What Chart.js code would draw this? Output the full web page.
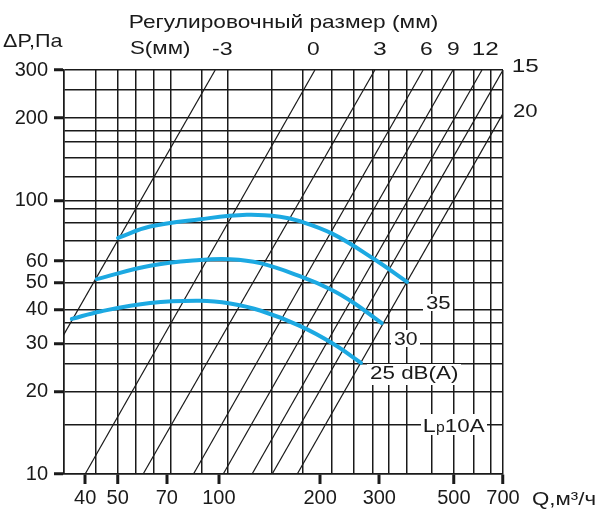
<!DOCTYPE html>
<html lang="ru">
<head>
<meta charset="utf-8">
<title>ΔP – Q</title>
<script src="https://cdn.jsdelivr.net/npm/chart.js@4.4.1/dist/chart.umd.min.js"></script>
<style>
  html, body { margin: 0; padding: 0; background: #fff; }
  canvas { display: block; }
</style>
</head>
<body>
<canvas id="grafico" width="600" height="518"></canvas>
<script>
// Диаграмма ΔP–Q: регулировочный размер S и уровни шума Lp10A

// Оси (логарифмические)
const Q_MIN = 34.6, Q_MAX = 700;
const P_MIN = 10,   P_MAX = 300;

const xTickValues = [40, 50, 70, 100, 200, 300, 500, 700];
const yTickValues = [10, 20, 30, 40, 50, 60, 100, 200, 300];

const xGridValues = [34.6, 43.1, 50, 56.7, 64.2, 72.1, 89.1, 106.5, 143.9, 177.9,
                     217, 252.2, 287.4, 320.7, 361.4, 429, 500, 574, 645, 700];
const yGridValues = [10, 15.2, 20, 25.3, 30, 35.7, 40, 50, 60, 71, 83, 93,
                     100, 122, 143, 164, 180, 200, 253, 300];

// Линии регулировочного размера S (мм): Q при 10 Па и при 300 Па
const sizeLabels = ['-3', '0', '3', '6', '9', '12', '15', '20'];
const qAt10Pa    = [20, 40, 59.5, 84, 103, 125.5, 144, 171];
const qAt300Pa   = [97.5, 193, 291, 405, 497, 606, 700, 830];

// Кривые шума
const noiseLabels = ['25 dB(A)', '30', '35'];
const q25 = [36.5, 44.4, 62.4, 87.9, 108, 132.6, 174, 218, 264.6];
const p25 = [36.9, 39.3, 42.2, 43.0, 42.0, 39.6, 34.8, 30.0, 25.5];
const q30 = [43.3, 62.4, 87.9, 108, 132.6, 174, 216, 252, 305];
const p30 = [51.6, 57.7, 60.6, 61.0, 59.0, 52.9, 47.2, 42.2, 35.6];
const q35 = [50.1, 62.4, 87.9, 121, 152, 174, 218, 287, 362.8];
const p35 = [73, 80.3, 85.4, 88.6, 87.2, 84.0, 75.5, 61.5, 50.4];

const FONT = '"Liberation Sans", Arial, sans-serif';
const INK  = '#1a1a1a';
const BLUE = '#1ca9e2';

const xTickSet = new Set(xTickValues), xGridSet = new Set(xGridValues);
const yTickSet = new Set(yTickValues), yGridSet = new Set(yGridValues);

const tickList = (grid, labels) =>
    [...new Set([...grid, ...labels])].sort((a, b) => a - b).map(v => ({ value: v }));

const pairs = (xs, ys) => xs.map((x, i) => ({ x, y: ys[i] }));

const noiseSets = [[q25, p25], [q30, p30], [q35, p35]].map(([q, p], i) => ({
    label: noiseLabels[i],
    data: pairs(q, p),
    showLine: true,
    borderColor: BLUE,
    borderWidth: 4,
    borderCapStyle: 'round',
    tension: 0.4,
    pointRadius: 0
}));

const sizeSets = sizeLabels.map((s, i) => ({
    label: 'S = ' + s,
    data: [{ x: qAt10Pa[i], y: P_MIN }, { x: qAt300Pa[i], y: P_MAX }],
    showLine: true,
    borderColor: INK,
    borderWidth: 1.2,
    pointRadius: 0
}));

// текст, вписанный по ширине между left и right (оригинал слегка растянут)
function fitText(ctx, s, left, right, baseline, size, bg) {
    ctx.save();
    ctx.font = size + 'px ' + FONT;
    const m = ctx.measureText(s);
    const ink = m.actualBoundingBoxLeft + m.actualBoundingBoxRight;
    const sx = (right - left) / ink;
    if (bg) {
        ctx.fillStyle = '#fff';
        ctx.fillRect(left - 3, baseline - m.actualBoundingBoxAscent - 2,
                     right - left + 6, m.actualBoundingBoxAscent + m.actualBoundingBoxDescent + 4);
    }
    ctx.translate(left + m.actualBoundingBoxLeft * sx, baseline);
    ctx.scale(sx, 1);
    ctx.fillStyle = INK;
    ctx.textAlign = 'left';
    ctx.textBaseline = 'alphabetic';
    ctx.fillText(s, 0, 0);
    ctx.restore();
}

const textPlugin = {
    id: 'textos',
    afterDraw(chart) {
        const ctx = chart.ctx;
        fitText(ctx, 'Регулировочный размер (мм)', 130, 438, 28, 19);
        fitText(ctx, 'S(мм)', 130, 190, 54, 19);
        fitText(ctx, 'ΔP,Па', 3, 63, 47, 19);
        fitText(ctx, 'Q,м³/ч', 532, 595, 505, 19);

        // подписи линий S: [left, right, baseline]
        const sPos = [[212, 232, 55], [307, 319, 55], [373, 386, 55], [420, 432, 55],
                      [447, 459, 55], [473, 498, 55], [513, 538, 72], [513, 537, 117]];
        sizeLabels.forEach((s, i) => fitText(ctx, s, sPos[i][0], sPos[i][1], sPos[i][2], 19));

        // подписи кривых шума
        const nPos = [[370, 458, 379], [394, 417, 345], [426, 450, 309]];
        noiseLabels.forEach((s, i) => fitText(ctx, s, nPos[i][0], nPos[i][1], nPos[i][2], 19, true));

        // Lp10A
        ctx.save();
        ctx.fillStyle = '#fff';
        ctx.fillRect(421, 414, 66, 21);
        ctx.restore();
        fitText(ctx, 'L', 424, 435, 432, 19);
        fitText(ctx, 'p', 436, 445, 432, 14);
        fitText(ctx, '10A', 446, 485, 432, 19);
    }
};

const axisFont = { family: FONT, size: 20 };

new Chart(document.getElementById('grafico'), {
    type: 'scatter',
    data: { datasets: [...noiseSets, ...sizeSets] },
    options: {
        responsive: false,
        animation: false,
        devicePixelRatio: 1,
        layout: { padding: { top: 70, right: 97, left: 0, bottom: 0 } },
        plugins: { legend: { display: false }, tooltip: { enabled: false } },
        scales: {
            x: {
                type: 'logarithmic',
                min: Q_MIN, max: Q_MAX,
                afterBuildTicks: s => { s.ticks = tickList(xGridValues, xTickValues); },
                afterFit: s => { s.height = 44; },
                border: { display: true, color: INK, width: 1.5 },
                grid: {
                    color: INK,
                    lineWidth: c => (c.tick && xGridSet.has(c.tick.value)) ? 1.5 : 0,
                    drawTicks: true, tickLength: 10, tickWidth: 3,
                    tickColor: c => (c.tick && xTickSet.has(c.tick.value)) ? INK : 'rgba(0,0,0,0)'
                },
                ticks: {
                    autoSkip: false, maxRotation: 0, minRotation: 0, padding: 2,
                    color: INK, font: axisFont,
                    callback: v => xTickSet.has(v) ? String(v) : ''
                }
            },
            y: {
                type: 'logarithmic',
                min: P_MIN, max: P_MAX,
                afterBuildTicks: s => { s.ticks = tickList(yGridValues, yTickValues); },
                afterFit: s => { s.width = 64; },
                border: { display: true, color: INK, width: 1.5 },
                grid: {
                    color: INK,
                    lineWidth: c => (c.tick && yGridSet.has(c.tick.value)) ? 1.5 : 0,
                    drawTicks: true, tickLength: 10, tickWidth: 3,
                    tickColor: c => (c.tick && yTickSet.has(c.tick.value)) ? INK : 'rgba(0,0,0,0)'
                },
                ticks: {
                    autoSkip: false, padding: 6,
                    color: INK, font: axisFont,
                    callback: v => yTickSet.has(v) ? String(v) : ''
                }
            }
        }
    },
    plugins: [textPlugin]
});
</script>
</body>
</html>
